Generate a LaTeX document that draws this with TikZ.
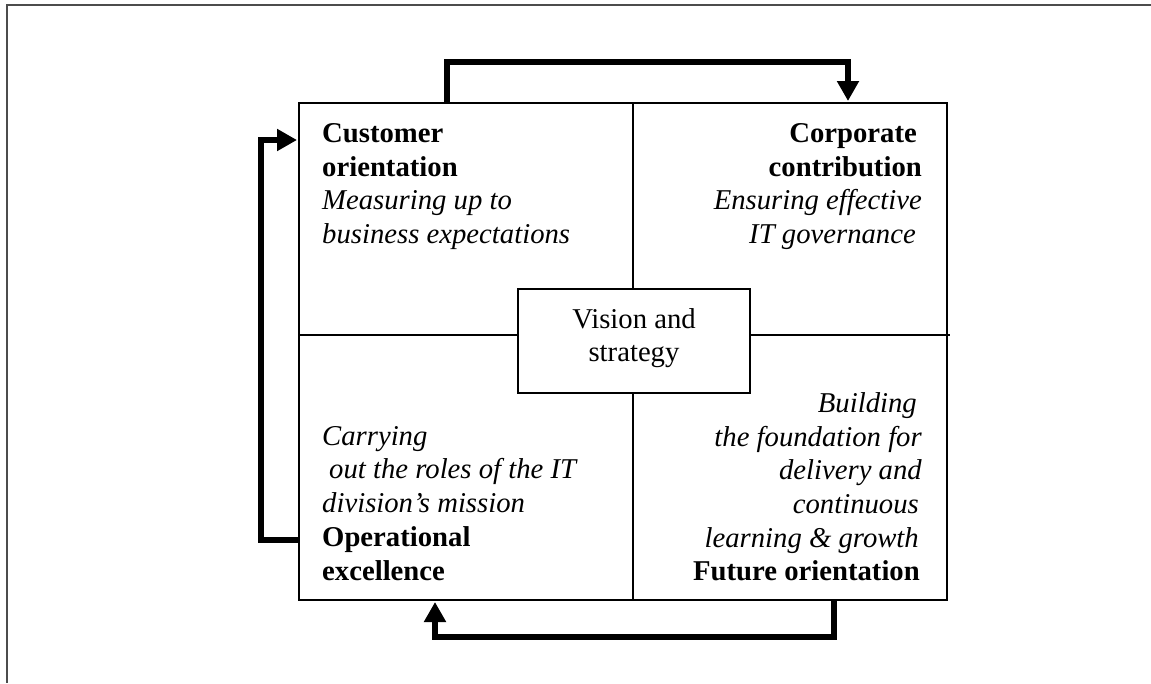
\documentclass[tikz,border=0pt]{standalone}
\usepackage{fontspec}
\setmainfont{Liberation Serif}
\usetikzlibrary{arrows.meta}

\tikzset{
  panel/.style={draw, line width=2pt, rectangle, inner sep=0pt},
  divider/.style={line width=2pt},
  flow/.style={line width=6pt, line join=miter,
    -{Triangle[width=21pt,length=20pt]}, shorten >=2pt},
  txt/.style={inner sep=0pt, font=\fontsize{28.7pt}{33.6pt}\selectfont},
  lft/.style={txt, anchor=base west},
  rgt/.style={txt, anchor=base east},
  mid/.style={txt, anchor=base},
}

\begin{document}
\begin{tikzpicture}[x=1pt,y=-1pt]
  \useasboundingbox (0,0) rectangle (1151,683);

  % page frame (top and left edges)
  \draw[line width=1.6pt, black!70] (1151,5) -- (7,5) -- (7,683);

  % outer square of the scorecard
  \node[panel, minimum width=648pt, minimum height=497pt] (card) at (623,351.5) {};

  % quadrant dividers
  \coordinate (vt) at (633,103);
  \coordinate (vb) at (633,600);
  \coordinate (hl) at (299,335);
  \coordinate (hr) at (950,335);
  \draw[divider] (vt) -- (vb);
  \draw[divider] (hl) -- (hr);

  % central box
  \node[panel, fill=white, minimum width=232pt, minimum height=104pt] (vision) at (634,341) {};
  \node[mid] (v1) at (634,328) {Vision and};
  \node[mid] (v2) at (634,361) {strategy};

  % upper left quadrant
  \node[lft] (cu1) at (322,142)   {\textbf{Customer}};
  \node[lft] (cu2) at (322,176)   {\textbf{orientation}};
  \node[lft] (cu3) at (322,209.5) {\textit{Measuring up to}};
  \node[lft] (cu4) at (322,243)   {\textit{business expectations}};

  % upper right quadrant
  \node[rgt] (co1) at (917,142)   {\textbf{Corporate}};
  \node[rgt] (co2) at (922,176)   {\textbf{contribution}};
  \node[rgt] (co3) at (922,209.5) {\textit{Ensuring effective}};
  \node[rgt] (co4) at (916,243)   {\textit{IT governance}};

  % lower left quadrant
  \node[lft] (op1) at (322,445)   {\textit{Carrying}};
  \node[lft] (op2) at (329,478.5) {\textit{out the roles of the IT}};
  \node[lft] (op3) at (322,512)   {\textit{division’s mission}};
  \node[lft] (op4) at (322,546)   {\textbf{Operational}};
  \node[lft] (op5) at (322,580)   {\textbf{excellence}};

  % lower right quadrant
  \node[rgt] (fu1) at (917,412)   {\textit{Building}};
  \node[rgt] (fu2) at (922,446)   {\textit{the foundation for}};
  \node[rgt] (fu3) at (922,479)   {\textit{delivery and}};
  \node[rgt] (fu4) at (919,513)   {\textit{continuous}};
  \node[rgt] (fu5) at (919,547)   {\textit{learning \& growth}};
  \node[rgt] (fu6) at (920,580)   {\textbf{Future orientation}};

  % cycle arrows between the quadrants
  \coordinate (topS) at (447,103);
  \coordinate (topE) at (848,103);
  \coordinate (lftS) at (299,540);
  \coordinate (lftE) at (299,140);
  \coordinate (botS) at (834,600);
  \coordinate (botE) at (435,600);

  \draw[flow] (topS) -- ++(0,-41) -| (topE);
  \draw[flow] (botS) -- ++(0,37) -| (botE);
  \draw[flow] (lftS) -- ++(-38,0) |- (lftE);
\end{tikzpicture}
\end{document}
